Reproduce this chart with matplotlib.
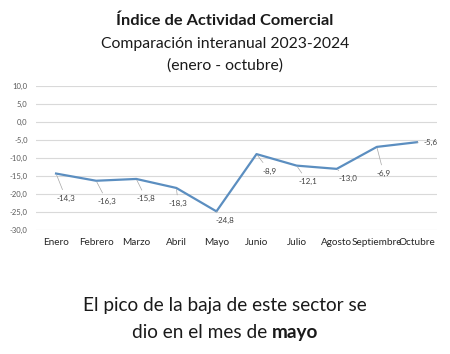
import numpy as np
import matplotlib
matplotlib.use("Agg")
import matplotlib.pyplot as plt
from matplotlib import rcParams

rcParams["font.family"] = ["Lato", "DejaVu Sans"]

# Data
meses = ["Enero", "Febrero", "Marzo", "Abril", "Mayo", "Junio", "Julio",
         "Agosto", "Septiembre", "Octubre"]
valores = [-14.3, -16.3, -15.8, -18.3, -24.8, -8.9, -12.1, -13.0, -6.9, -5.6]
yticks = [10, 5, 0, -5, -10, -15, -20, -25, -30]

# label offsets in pixels (dx, dy)
offs = [(10, -25), (11, -21), (10, -20), (2, -16), (8, -9), (13, -17),
        (11, -16), (11, -10), (7, -27), (14, 0)]

c_line = "#5b8ec0"

fig = plt.figure(figsize=(4.5, 3.54), dpi=100)
ax = fig.add_axes([0.08, 0.350, 0.891, 0.407])

x = np.arange(len(meses))
ax.plot(x, valores, c=c_line, lw=1.6, solid_joinstyle="round", zorder=3)

for xi, v, (dx, dy) in zip(x, valores, offs):
    ax.annotate(f"{v:.1f}".replace(".", ","), xy=(xi, v), xytext=(dx, dy),
                textcoords="offset pixels", fontsize=5.8, color="#404040",
                ha="center", va="center",
                arrowprops=dict(arrowstyle="-", color="#a6a6a6", lw=0.5,
                                shrinkA=2, shrinkB=1))

ax.set_xlim(-0.5, len(meses) - 0.5)
ax.set_ylim(-30, 10)
ax.set_yticks(yticks)
ax.set_yticklabels([f"{t:.1f}".replace(".", ",") for t in yticks],
                   fontsize=5.5, color="#595959")
ax.set_xticks(x)
ax.set_xticklabels(meses, fontsize=7.2, color="#262626")
ax.tick_params(length=0)
ax.tick_params(axis="x", pad=6)
ax.tick_params(axis="y", pad=6)
ax.grid(True, axis="y", color="#d9d9d9", lw=0.8)
ax.set_axisbelow(True)
for s in ax.spines.values():
    s.set_visible(False)

fig.text(0.5, 0.940, "Índice de Actividad Comercial", ha="center",
         va="center", fontsize=11.8, fontweight="bold", color="#1a1a1a")
fig.text(0.5, 0.877, "Comparación interanual 2023-2024", ha="center",
         va="center", fontsize=11.3, color="#1a1a1a")
fig.text(0.5, 0.815, "(enero - octubre)", ha="center", va="center",
         fontsize=11.3, color="#1a1a1a")

fig.text(0.5, 0.137, "El pico de la baja de este sector se", ha="center",
         va="center", fontsize=13.7, color="#1a1a1a")
ta = fig.text(0.5, 0.060, "dio en el mes de ", ha="left", va="center",
              fontsize=13.7, color="#1a1a1a")
tb = fig.text(0.5, 0.060, "mayo", ha="left", va="center", fontsize=13.7,
              fontweight="bold", color="#1a1a1a")

# center the mixed-weight second line
r = fig.canvas.get_renderer()
wa = ta.get_window_extent(r).width / fig.bbox.width
wb = tb.get_window_extent(r).width / fig.bbox.width
x0 = 0.5 - (wa + wb) / 2
ta.set_x(x0)
tb.set_x(x0 + wa)

plt.savefig("out.png", dpi=100)
